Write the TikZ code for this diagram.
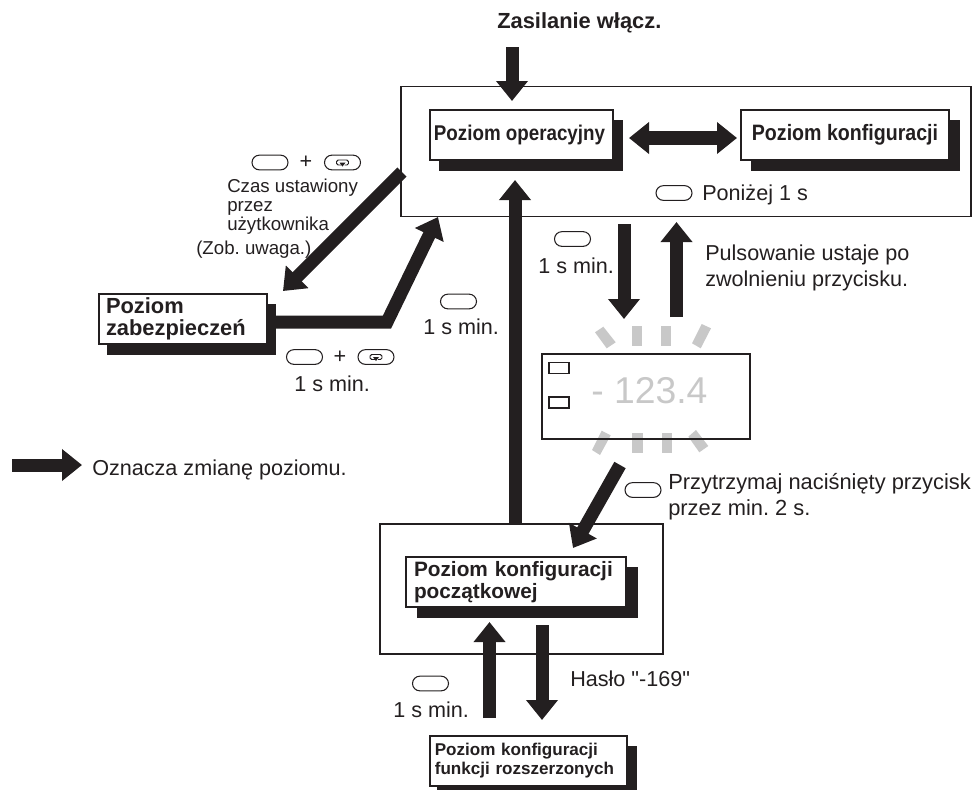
\documentclass[tikz,border=0pt]{standalone}
\usepackage{fontspec}
\setmainfont{Liberation Sans}
\newfontfamily\rawf{Liberation Sans}
\newfontfamily\condb[FakeStretch=0.88]{Liberation Sans}
\usetikzlibrary{arrows.meta,shapes.misc}
\definecolor{ink}{HTML}{231F20}
\definecolor{rayc}{HTML}{C8C8C8}
\AtBeginDocument{\frenchspacing}
\tikzset{
  x=0.75pt,y=-0.75pt,
  frame/.style={draw=ink,line width=0.9pt,fill=none,rectangle,inner sep=0pt},
  lvl/.style={draw=ink,line width=1.5pt,fill=white,rectangle,inner sep=0pt,font=\bfseries,text=ink},
  shade/.style={fill=ink},
  txt/.style={inner sep=0pt,font=\fontsize{16.2}{16.5}\selectfont,text=ink,align=left},
  btn/.style={draw=ink,line width=0.8pt,fill=white,rounded rectangle,minimum width=27pt,minimum height=11pt,inner sep=0pt},
  block/.style={draw=ink,line width=9.75pt,-{Triangle[length=15pt,width=23pt,fill=ink]}},
  dblock/.style={draw=ink,line width=10pt,{Triangle[length=15pt,width=23pt,fill=ink]}-{Triangle[length=15pt,width=23pt,fill=ink]}},
  ray/.style={fill=rayc},
  loopsym/.pic={
    \draw[ink,line width=0.7pt,rounded corners=1.2pt] (-1,2.5) -- (-6,2.5) -- (-6,-2.5) -- (6,-2.5) -- (6,2.5) -- (2,2.5);
    \fill[ink] (-3,0) -- (3,0) -- (0,4) -- cycle;
  }
}
\begin{document}
\begin{tikzpicture}
\useasboundingbox (0,0) rectangle (975,794);
% outer frames
\node[frame,minimum width=427.5pt,minimum height=97.5pt] (main) at (686,151.5) {};
\node[frame,line width=1.2pt,minimum width=212pt,minimum height=97.5pt] (init) at (521.5,589) {};
% title
\node[inner sep=0pt,font=\fontsize{16.4}{18}\selectfont\bfseries,text=ink,anchor=base west] (power) at (497,28) {Zasilanie włącz.};
% level boxes
\fill[shade] (439,120) rectangle (623,171);
\node[lvl,minimum width=137pt,minimum height=37.5pt,font=\fontsize{16}{16}\condb\bfseries] (oper) at (521.5,135) {\kern-3pt Poziom operacyjny};
\fill[shade] (751,120) rectangle (960,171);
\node[lvl,minimum width=156pt,minimum height=37.5pt,font=\fontsize{16.7}{16}\condb\bfseries] (conf) at (845,135) {\raisebox{-2pt}{Poziom konfiguracji}};
\fill[shade] (107,304) rectangle (276,355);
\node[lvl,minimum width=126pt,minimum height=37.5pt,font=\fontsize{16.4}{16.5}\selectfont\bfseries,align=left,text width=115.5pt] (sec) at (183,319) {Poziom\\zabezpieczeń};
\fill[shade] (417,567) rectangle (638,618);
\node[lvl,minimum width=165pt,minimum height=37.5pt,font=\fontsize{15.6}{16.5}\selectfont\bfseries,align=left,text width=153pt] (start) at (516,582) {Poziom konfiguracji\\początkowej};
\fill[shade] (437,746) rectangle (637,790);
\node[lvl,minimum width=148pt,minimum height=37.5pt,font=\fontsize{12.8}{14.2}\selectfont\bfseries,align=left,text width=140.5pt] (ext) at (528.5,761) {Poziom konfiguracji\\funkcji rozszerzonych};
% display
\fill[ray] (595,332.3) -- (603.3,326.7) -- (615.7,342.3) -- (606.7,348.3) -- cycle;
\fill[ray] (631.7,325.7) rectangle (642.3,345.7);
\fill[ray] (660.7,325.7) rectangle (671,345.7);
\fill[ray] (701.7,324) -- (711,328.3) -- (700.7,348.3) -- (692,343.3) -- cycle;
\fill[ray] (601.7,430.7) -- (610.7,435.3) -- (600,455) -- (592,450) -- cycle;
\fill[ray] (632.3,432.7) rectangle (642.7,453.3);
\fill[ray] (661.7,432.7) rectangle (672,453.3);
\fill[ray] (696,430) -- (708.3,446) -- (699.3,452.3) -- (688.3,436.7) -- cycle;
\node[draw=ink,line width=1.2pt,rectangle,minimum width=156pt,minimum height=63.75pt,inner sep=0pt] (disp) at (646,396.5) {};
\node[draw=ink,line width=1.2pt,rectangle,minimum width=15pt,minimum height=8.5pt,inner sep=0pt] (led1) at (559,368) {};
\node[draw=ink,line width=1.2pt,rectangle,minimum width=15pt,minimum height=8.5pt,inner sep=0pt] (led2) at (559,402.5) {};
\node[inner sep=0pt,font=\fontsize{28}{30}\selectfont,text=rayc,anchor=base west] (val) at (591,403) {- 123.4};
% arrow end points
\coordinate (a1s) at (512,47); \coordinate (a1e) at (512,101);
\coordinate (a2s) at (629,138); \coordinate (a2e) at (737,138);
\coordinate (a3s) at (515,524); \coordinate (a3e) at (515,180);
\coordinate (a4s) at (402,172); \coordinate (a4e) at (283,291);
\coordinate (a5s) at (276,322); \coordinate (a5m) at (387,322); \coordinate (a5e) at (438,217);
\coordinate (a6s) at (624,224); \coordinate (a6e) at (624,319);
\coordinate (a7s) at (676.5,317); \coordinate (a7e) at (676.5,222);
\coordinate (a8s) at (620,465); \coordinate (a8e) at (573,548);
\coordinate (a9s) at (489.5,718); \coordinate (a9e) at (489.5,622);
\coordinate (a10s) at (542,625); \coordinate (a10e) at (542,720);
\coordinate (a11s) at (12,465); \coordinate (a11e) at (82,465);
\draw[block] (a1s) -- (a1e);
\draw[dblock] (a2s) -- (a2e);
\draw[block] (a3s) -- (a3e);
\draw[block] (a4s) -- (a4e);
\draw[block,miter limit=10] (a5s) -- (a5m) -- (a5e);
\draw[block] (a6s) -- (a6e);
\draw[block] (a7s) -- (a7e);
\draw[block] (a8s) -- (a8e);
\draw[block] (a9s) -- (a9e);
\draw[block] (a10s) -- (a10e);
\draw[block] (a11s) -- (a11e);
% buttons
\node[btn] (b1) at (674,193) {};
\node[btn] (b2) at (270,162.5) {};
\node[btn] (b3) at (342.5,162.5) {};
\pic at (b3) {loopsym};
\node[btn] (b4) at (304.5,357) {};
\node[btn] (b5) at (376,357) {};
\pic at (b5) {loopsym};
\node[btn] (b6) at (458.5,301.5) {};
\node[btn] (b7) at (572.5,239) {};
\node[btn] (b8) at (643,490) {};
\node[btn] (b9) at (430.5,683.5) {};
% labels
\node[txt] (plus1) at (306,162) {+};
\node[txt] (plus2) at (340,357) {+};
\node[txt,anchor=base west] (below) at (702,200) {Poniżej 1 s};
\node[txt,anchor=north west,font=\fontsize{14}{14.25}\selectfont] (czas) at (227,179) {Czas ustawiony\\przez\\użytkownika};
\node[txt,anchor=base west,font=\fontsize{14}{14.25}\selectfont] (uwaga) at (196,254) {(Zob. uwaga.)};
\node[txt,anchor=base west] (m1) at (294,391) {1 s min.};
\node[txt,anchor=base west] (m2) at (423,334) {1 s min.};
\node[txt,anchor=base west] (m3) at (538,273) {1 s min.};
\node[txt,anchor=base west] (m4) at (393,717) {1 s min.};
\node[txt,anchor=north west,font=\fontsize{16.2}{19.5}\selectfont] (puls) at (705,245) {Pulsowanie ustaje po\\zwolnieniu przycisku.};
\node[txt,anchor=north west,font=\fontsize{16.4}{19.5}\selectfont] (hold) at (668,473) {Przytrzymaj naciśnięty przycisk\\przez min. 2 s.};
\node[txt,anchor=base west] (pass) at (570,686) {Hasło {\rawf"-169"}};
\node[txt,anchor=base west] (legend) at (92,475) {Oznacza zmianę poziomu.};
\end{tikzpicture}
\end{document}
